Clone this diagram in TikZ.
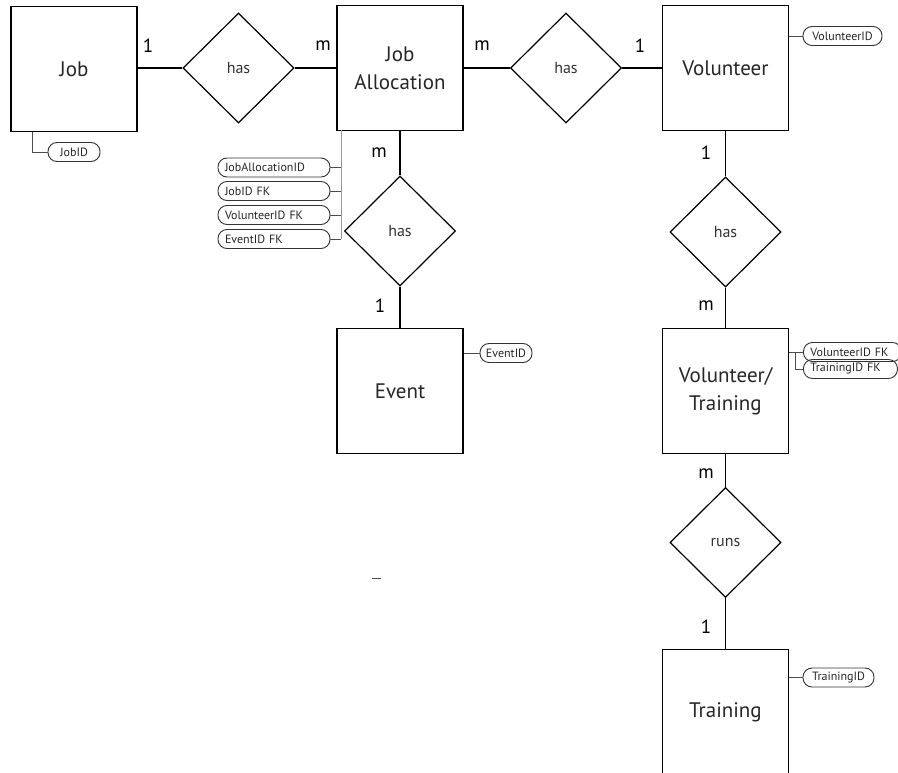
\documentclass[tikz,border=0pt]{standalone}
\usepackage{fontspec}
\setmainfont{PT Sans}
\usetikzlibrary{shapes.geometric,calc}
\begin{document}
\begin{tikzpicture}[x=1pt,y=-1pt,
  ent/.style={draw,line width=1.2pt,minimum width=126pt,minimum height=125pt,inner sep=0pt,align=center,font=\fontsize{21}{28}\selectfont,text=black!85},
  rel/.style={draw,line width=1.2pt,diamond,minimum width=111pt,minimum height=110pt,inner sep=0pt,font=\fontsize{16}{18}\selectfont,text=black!80},
  attr/.style={draw=black!80,line width=0.9pt,rounded corners=9pt,minimum height=19pt,inner sep=0pt,font=\fontsize{12}{13}\selectfont,text=black!85},
  lattr/.style={attr,inner xsep=7pt,align=left},
  card/.style={font=\fontsize{19}{20}\selectfont,inner sep=0pt},
  conn/.style={line width=1.2pt},
  aconn/.style={line width=0.6pt,black!70}]
\useasboundingbox (0,0) rectangle (898,773);
\fill[white] (0,0) rectangle (898,773);
\begin{scope}
\clip (0,0) rectangle (898,773);
% entities
\node[ent] (job) at (74,69) {Job};
\node[ent] (ja) at (400,68) {Job\\Allocation};
\node[ent] (vol) at (725.5,68) {Volunteer};
\node[ent] (event) at (400,391) {Event};
\node[ent] (vt) at (725.5,391) {Volunteer/\\Training};
\node[ent] (train) at (725.5,712) {Training};
% relationships
\node[rel] (r1) at (238.5,68) {has};
\node[rel] (r2) at (566,68) {has};
\node[rel] (r3) at (400,231) {has};
\node[rel] (r4) at (725.5,232) {has};
\node[rel] (r5) at (725.5,542.5) {runs};
% connectors
\draw[conn] (job.east |- r1.west) -- (r1.west);
\draw[conn] (r1.east) -- (ja.west |- r1.east);
\draw[conn] (ja.east |- r2.west) -- (r2.west);
\draw[conn] (r2.east) -- (vol.west |- r2.east);
\draw[conn] (ja.south) -- (r3.north);
\draw[conn] (r3.south) -- (event.north);
\draw[conn] (vol.south) -- (r4.north);
\draw[conn] (r4.south) -- (vt.north);
\draw[conn] (vt.south) -- (r5.north);
\draw[conn] (r5.south) -- (train.north);
% cardinalities
\node[card] (c1) at (148,46) {1};
\node[card] (c2) at (323,46) {m};
\node[card] (c3) at (482,46) {m};
\node[card] (c4) at (640,46) {1};
\node[card] (c5) at (379,153) {m};
\node[card] (c6) at (380,306) {1};
\node[card] (c7) at (706,153) {1};
\node[card] (c8) at (706,306) {m};
\node[card] (c9) at (706,474) {m};
\node[card] (c10) at (706,627) {1};
% attributes
\node[attr,minimum width=52pt] (jobid) at (74,152) {JobID};
\coordinate (jobst) at (32,132);
\draw[aconn] (jobst) |- (jobid.west);
\node[lattr,text width=98pt] (a1) at (274,167.5) {JobAllocationID};
\node[lattr,text width=98pt] (a2) at (274,191) {JobID FK};
\node[lattr,text width=98pt] (a3) at (274,215) {VolunteerID FK};
\node[lattr,text width=98pt] (a4) at (274,239) {EventID FK};
\coordinate (jast) at (341,130);
\draw[aconn,black!40,line width=1pt] (jast) -- (jast |- a4.east);
\draw[aconn] (a1.east) -- (jast |- a1.east);
\draw[aconn] (a2.east) -- (jast |- a2.east);
\draw[aconn] (a3.east) -- (jast |- a3.east);
\draw[aconn] (a4.east) -- (jast |- a4.east);
\node[attr,minimum width=79pt] (volid) at (842.5,36) {VolunteerID};
\draw[aconn] (vol.east |- volid.west) -- (volid.west);
\node[attr,minimum width=52pt] (evid) at (506,353) {EventID};
\draw[aconn] (event.east |- evid.west) -- (evid.west);
\node[lattr,text width=84pt,anchor=west] (vtv) at (803,352) {VolunteerID FK};
\node[lattr,text width=80pt,anchor=west] (vtt) at (803,369) {TrainingID FK};
\coordinate (vtbr) at (795,352);
\draw[aconn] (vt.east |- vtv.west) -- (vtv.west);
\draw[aconn] (vtbr) |- (vtt.west);
\node[attr,minimum width=71pt] (trid) at (838.5,677.5) {TrainingID};
\draw[aconn] (train.east |- trid.west) -- (trid.west);
% stray dash
\coordinate (d1) at (372,578);
\coordinate (d2) at (381,578);
\draw[line width=0.8pt,black!70] (d1) -- (d2);
\end{scope}
\end{tikzpicture}
\end{document}
